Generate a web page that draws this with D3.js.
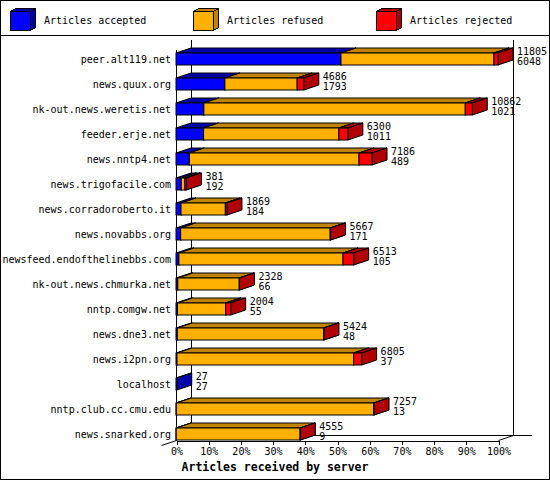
<!DOCTYPE html>
<html>
<head>
<meta charset="utf-8">
<script src="https://cdn.jsdelivr.net/npm/d3@7"></script>
<style>
    body { margin: 0; background: #fff; }
    svg { display: block; }
    text { font-family: 'DejaVu Sans Mono', 'Liberation Mono', monospace; font-size: 10px; fill: #000; }
    .axis-title { font-weight: bold; font-size: 11.5px; }
</style>
</head>
<body>
<div id="chart"></div>
<script>
var hosts = [
    'peer.alt119.net', 'news.quux.org', 'nk-out.news.weretis.net', 'feeder.erje.net',
    'news.nntp4.net', 'news.trigofacile.com', 'news.corradoroberto.it', 'news.novabbs.org',
    'newsfeed.endofthelinebbs.com', 'nk-out.news.chmurka.net', 'nntp.comgw.net', 'news.dne3.net',
    'news.i2pn.org', 'localhost', 'nntp.club.cc.cmu.edu', 'news.snarked.org'
];
var totals = [11805, 4686, 10862, 6300, 7186, 381, 1869, 5667, 6513, 2328, 2004, 5424, 6805, 27, 7257, 4555];
var accepted = [6048, 1793, 1021, 1011, 489, 192, 184, 171, 105, 66, 55, 48, 37, 27, 13, 9];
var refused = [5607, 2648, 9584, 4959, 6220, 134, 1625, 5481, 6018, 2252, 1766, 5361, 6475, 0, 7234, 4541];
var rejected = [150, 245, 257, 330, 477, 55, 60, 15, 390, 10, 183, 15, 293, 0, 10, 5];
var seriesNames = ['Articles accepted', 'Articles refused', 'Articles rejected'];
var tickPercents = [0, 0.1, 0.2, 0.3, 0.4, 0.5, 0.6, 0.7, 0.8, 0.9, 1];

var W = 550, H = 480;
var colors = [
    { front: '#0000ff', dark: '#0000a8' },
    { front: '#ffb000', dark: '#c08400' },
    { front: '#ff0000', dark: '#b00000' }
];
var depth = { dx: 15, dy: 5 };
var barH = 12;
var px = v => Math.round(v) + 0.5;

var svg = d3.select('#chart')
    .append('svg')
    .attr('width', W)
    .attr('height', H)
    .attr('shape-rendering', 'crispEdges');

// frame + legend separator
svg.append('rect')
    .attr('x', 0.5).attr('y', 0.5)
    .attr('width', W - 1).attr('height', H - 1)
    .attr('fill', '#fff').attr('stroke', '#000');
svg.append('line')
    .attr('x1', 0).attr('x2', W)
    .attr('y1', 35.5).attr('y2', 35.5)
    .attr('stroke', '#000');

// legend
var legend = svg.selectAll('.legend')
    .data(seriesNames)
    .enter()
    .append('g')
    .attr('class', 'legend')
    .attr('transform', (d, i) => 'translate(' + (10 + i * 183) + ',0)');

legend.append('polygon')
    .attr('points', '0.5,11.5 5.5,8.5 25.5,8.5 20.5,11.5')
    .attr('fill', (d, i) => colors[i].dark)
    .attr('stroke', '#000');
legend.append('polygon')
    .attr('points', '20.5,11.5 25.5,8.5 25.5,27.5 20.5,30.5')
    .attr('fill', (d, i) => colors[i].dark)
    .attr('stroke', '#000');
legend.append('rect')
    .attr('x', 0.5).attr('y', 11.5)
    .attr('width', 20).attr('height', 19)
    .attr('fill', (d, i) => colors[i].front)
    .attr('stroke', '#000');
legend.append('text')
    .attr('x', 34)
    .attr('y', 24)
    .text(d => d);

// scales
var x = d3.scaleLinear()
    .domain([0, d3.max(totals)])
    .range([176, 498]);
var xPct = d3.scaleLinear()
    .domain([0, 1])
    .range([176, 498]);
var y = d3.scaleBand()
    .domain(hosts)
    .range([40, 440]);

var x0 = x.range()[0], x1 = x.range()[1];
var floorY = 440;

// back walls and floor
var frame = svg.append('g').attr('stroke', '#000').attr('fill', 'none');
frame.append('line')
    .attr('x1', px(x0 + depth.dx)).attr('x2', px(x0 + depth.dx))
    .attr('y1', 40).attr('y2', px(floorY - depth.dy));
frame.append('line')
    .attr('x1', px(x1 + depth.dx)).attr('x2', px(x1 + depth.dx))
    .attr('y1', 40).attr('y2', px(floorY - depth.dy));
frame.append('line')
    .attr('x1', px(x0 + depth.dx)).attr('x2', 532)
    .attr('y1', px(floorY - depth.dy)).attr('y2', px(floorY - depth.dy));
frame.append('line')
    .attr('x1', px(x1)).attr('x2', px(x1 + depth.dx))
    .attr('y1', px(floorY)).attr('y2', px(floorY - depth.dy))
    .attr('shape-rendering', 'auto');
frame.append('line')
    .attr('x1', px(x0)).attr('x2', px(x0 - depth.dx))
    .attr('y1', px(floorY)).attr('y2', px(floorY + depth.dy))
    .attr('shape-rendering', 'auto');
frame.append('line')
    .attr('x1', px(x0)).attr('x2', px(x0))
    .attr('y1', 50).attr('y2', px(floorY));

// x axis
var xAxis = d3.axisBottom(xPct)
    .tickValues(tickPercents)
    .tickFormat(d3.format('.0%'))
    .tickSize(4)
    .tickSizeOuter(0);

var axisG = svg.append('g')
    .attr('class', 'x axis')
    .attr('transform', 'translate(0.5,' + px(floorY) + ')')
    .call(xAxis);
axisG.select('.domain').attr('stroke', '#000');
axisG.selectAll('.tick line').attr('stroke', '#000');
axisG.selectAll('.tick text')
    .attr('y', 7)
    .attr('dy', '0.71em')
    .attr('font-family', null)
    .attr('font-size', null)
    .attr('fill', '#000');

svg.append('text')
    .attr('class', 'axis-title')
    .attr('text-anchor', 'middle')
    .attr('x', W / 2)
    .attr('y', 471)
    .text('Articles received by server');

// bars
var rows = hosts.map((h, i) => {
    var vals = [accepted[i], refused[i], rejected[i]];
    var acc = 0;
    var segs = vals.map((v, k) => {
        var s = { k: k, from: acc, to: acc + v };
        acc += v;
        return s;
    }).filter(s => s.to > s.from);
    return { host: h, i: i, segs: segs };
});

var barG = svg.selectAll('.bar')
    .data(rows)
    .enter()
    .append('g')
    .attr('class', 'bar');

barG.each(function (row) {
    var g = d3.select(this);
    var top = y(row.host) + y.bandwidth() - barH;
    row.segs.forEach(s => {
        var a = x(s.from), b = x(s.to);
        var c = colors[s.k];
        g.append('polygon')
            .attr('points', [
                [a, top], [b, top], [b + depth.dx, top - depth.dy], [a + depth.dx, top - depth.dy]
            ].map(p => p.join(',')).join(' '))
            .attr('fill', c.dark)
            .attr('stroke', '#000')
            .attr('shape-rendering', 'auto');
        g.append('polygon')
            .attr('points', [
                [b, top], [b + depth.dx, top - depth.dy], [b + depth.dx, top + barH - depth.dy], [b, top + barH]
            ].map(p => p.join(',')).join(' '))
            .attr('fill', c.dark)
            .attr('stroke', '#000')
            .attr('shape-rendering', 'auto');
        g.append('rect')
            .attr('x', a)
            .attr('y', top)
            .attr('width', b - a)
            .attr('height', barH)
            .attr('fill', c.front)
            .attr('stroke', '#000')
            .attr('shape-rendering', 'auto');
    });

    var lx = x(totals[row.i]) + depth.dx + 4;
    g.append('text')
        .attr('x', lx)
        .attr('y', top + 1.5)
        .text(totals[row.i]);
    g.append('text')
        .attr('x', lx)
        .attr('y', top + 12)
        .text(accepted[row.i]);
});

// host labels
svg.selectAll('.host')
    .data(hosts)
    .enter()
    .append('text')
    .attr('class', 'host')
    .attr('text-anchor', 'end')
    .attr('x', 171)
    .attr('y', d => y(d) + y.bandwidth() - barH + 10)
    .text(d => d);
</script>
</body>
</html>
